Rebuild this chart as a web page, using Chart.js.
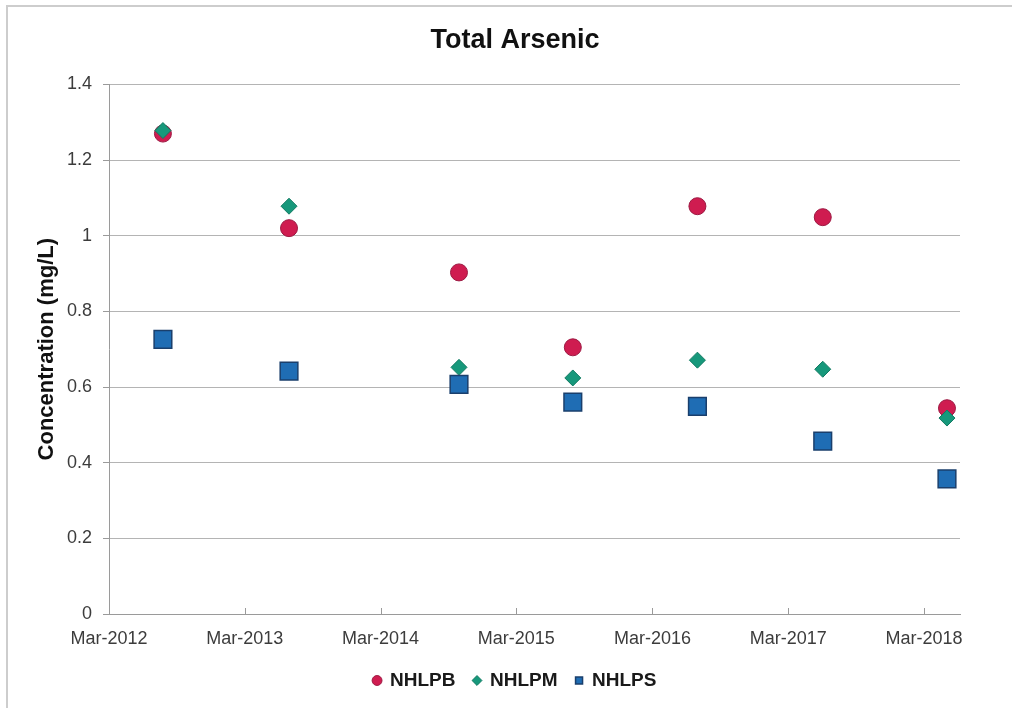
<!DOCTYPE html>
<html>
<head>
<meta charset="utf-8">
<title>Total Arsenic</title>
<script src="https://cdn.jsdelivr.net/npm/chart.js@4.4.1/dist/chart.umd.min.js"></script>
<style>
  html, body { margin: 0; padding: 0; background: #ffffff; overflow: hidden; }
  #frame {
    position: absolute; left: 6px; top: 5px; width: 1100px; height: 800px;
    border-left: 2px solid #cdcdcd; border-top: 2px solid #cdcdcd;
  }
  #wrap { position: absolute; left: 0; top: 0; width: 1012px; height: 708px; }
</style>
</head>
<body>
<div id="frame"></div>
<div id="wrap"><canvas id="chart" width="1012" height="708"></canvas></div>
<script>
// Sampling dates and total arsenic concentrations (mg/L)
const sampleDates = ['2012-07-24', '2013-06-28', '2014-09-28', '2015-07-31', '2016-06-30', '2017-06-02', '2018-05-02'];
const nhlpb = [1.27, 1.02, 0.903, 0.705, 1.078, 1.049, 0.544];
const nhlpm = [1.278, 1.078, 0.652, 0.624, 0.671, 0.647, 0.518];
const nhlps = [0.726, 0.642, 0.607, 0.560, 0.549, 0.457, 0.357];

// X-axis ticks: one per year in March
const tickDates = ['2012-03-01', '2013-03-01', '2014-03-01', '2015-03-01', '2016-03-01', '2017-03-01', '2018-03-01'];
const tickLabels = ['Mar-2012', 'Mar-2013', 'Mar-2014', 'Mar-2015', 'Mar-2016', 'Mar-2017', 'Mar-2018'];
const axisEndDate = '2018-06-06';

// day number for an ISO date string
const dayNum = s => Date.parse(s + 'T00:00:00Z') / 864e5;
const toPoints = vals => vals.map((v, i) => ({ x: dayNum(sampleDates[i]), y: v }));

const FONT = "'Liberation Sans', Arial, Helvetica, sans-serif";

// small tick marks drawn upward from the x axis
const innerXTicks = {
  id: 'innerXTicks',
  beforeDatasetsDraw(chart) {
    const sx = chart.scales.x, ctx = chart.ctx, yb = chart.chartArea.bottom;
    ctx.save();
    ctx.strokeStyle = '#9a9a9a';
    ctx.lineWidth = 1;
    sx.ticks.forEach(t => {
      const px = Math.round(sx.getPixelForValue(t.value)) + 0.5;
      ctx.beginPath();
      ctx.moveTo(px, yb);
      ctx.lineTo(px, yb - 6);
      ctx.stroke();
    });
    ctx.restore();
  }
};

new Chart(document.getElementById('chart'), {
  type: 'scatter',
  data: {
    datasets: [
      {
        label: 'NHLPB', data: toPoints(nhlpb), order: 3,
        pointStyle: 'circle', pointRadius: 8.5, pointHoverRadius: 8.5,
        backgroundColor: '#cf1c50', borderColor: '#9c1a43', borderWidth: 1
      },
      {
        label: 'NHLPM', data: toPoints(nhlpm), order: 2,
        pointStyle: 'rectRot', pointRadius: 8, pointHoverRadius: 8,
        backgroundColor: '#17987b', borderColor: '#127a62', borderWidth: 1
      },
      {
        label: 'NHLPS', data: toPoints(nhlps), order: 1,
        pointStyle: 'rect', pointRadius: 12.5, pointHoverRadius: 12.5,
        backgroundColor: '#1f6db4', borderColor: '#1a3f6c', borderWidth: 1.5
      }
    ]
  },
  options: {
    responsive: false,
    animation: false,
    events: [],
    layout: { padding: { left: 18, right: 0, top: 0, bottom: 8 } },
    plugins: {
      tooltip: { enabled: false },
      title: {
        display: true,
        text: 'Total Arsenic',
        color: '#111111',
        font: { family: FONT, size: 27, weight: 'bold', lineHeight: 1.2 },
        padding: { top: 24, bottom: 28 }
      },
      legend: {
        position: 'bottom',
        labels: {
          usePointStyle: true,
          boxWidth: 7, boxHeight: 7,
          padding: 18,
          color: '#1a1a1a',
          font: { family: FONT, size: 19, weight: 'bold' },
          sort: (a, b) => a.datasetIndex - b.datasetIndex
        }
      }
    },
    scales: {
      x: {
        type: 'linear',
        min: dayNum(tickDates[0]),
        max: dayNum(axisEndDate),
        afterBuildTicks: s => { s.ticks = tickDates.map(d => ({ value: dayNum(d) })); },
        afterFit: s => { s.height = 39; },
        grid: { display: false },
        border: { display: true, color: '#9a9a9a', width: 1 },
        ticks: {
          autoSkip: false, maxRotation: 0, padding: 6,
          color: '#3c3c3c',
          font: { family: FONT, size: 18 },
          callback: (v, i) => tickLabels[i]
        }
      },
      y: {
        min: 0, max: 1.4,
        afterFit: s => { s.width = 91; },
        ticks: {
          stepSize: 0.2, padding: 11,
          color: '#3c3c3c',
          font: { family: FONT, size: 18 },
          callback: v => String(Number(v.toFixed(2)))
        },
        grid: { color: '#b4b4b4', lineWidth: 1, tickLength: 6, tickColor: '#9a9a9a' },
        border: { display: true, color: '#9a9a9a', width: 1 },
        title: {
          display: true,
          text: 'Concentration (mg/L)',
          color: '#111111',
          font: { family: FONT, size: 22, weight: 'bold', lineHeight: 1.2 },
          padding: { top: 16, bottom: 0 }
        }
      },
      // keeps the plot's right edge clear of the canvas edge
      yPad: {
        position: 'right', display: true,
        afterFit: s => { s.width = 52; },
        grid: { display: false, drawTicks: false },
        border: { display: false },
        ticks: { display: false }
      }
    }
  },
  plugins: [innerXTicks]
});
</script>
</body>
</html>
